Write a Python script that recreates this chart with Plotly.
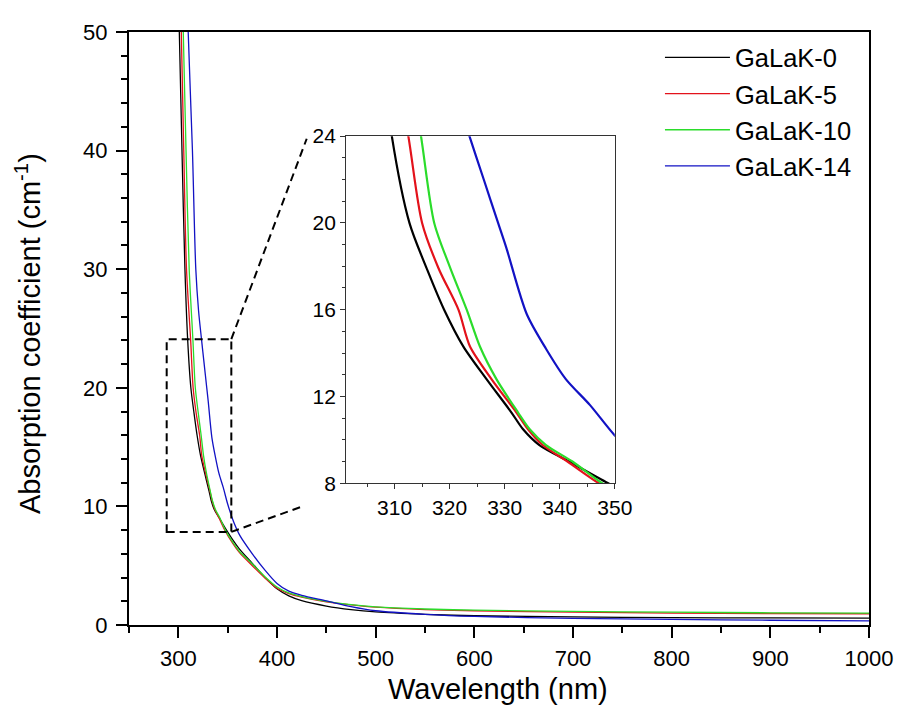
import plotly.graph_objects as go

# ---------------- data ----------------
series_names = ["GaLaK-0", "GaLaK-5", "GaLaK-10", "GaLaK-14"]

wl_galak0 = [298, 301, 303.7, 306.7, 309.5, 312.7, 316, 319.0, 322.5, 326.7, 331.2, 333.3, 336.3,
             341.7, 348.8, 355, 362, 375, 388, 400, 412, 425, 450, 475, 500, 550, 600, 700, 800, 900, 1000]
ab_galak0 = [60, 50, 40, 30, 24, 20, 17.8, 16, 14.3, 12.8, 11.27, 10.5, 9.76,
             9.0, 8.0, 7.2, 6.4, 5.2, 4.0, 3.05, 2.45, 2.05, 1.6, 1.3, 1.1, 0.9, 0.78, 0.68, 0.62, 0.6, 0.58]

wl_galak5 = [300, 303, 305.5, 308.3, 312.5, 315.0, 318, 321.6, 323.7, 327.6, 332.1, 334.2, 336.9,
             341.4, 347.1, 355, 362, 375, 388, 400, 412, 425, 450, 475, 500, 550, 600, 700, 800, 900, 1000]
ab_galak5 = [60, 50, 40, 30, 24, 20, 17.9, 16, 14.3, 12.8, 11.27, 10.5, 9.76,
             9.0, 8.0, 6.9, 6.1, 5.0, 3.95, 3.1, 2.65, 2.35, 1.95, 1.7, 1.5, 1.3, 1.2, 1.08, 1.0, 0.97, 0.95]

wl_galak10 = [302, 305, 307.8, 311, 314.8, 317.2, 320, 323.1, 325.5, 328.5, 332.4, 334.5, 337.5,
              342.3, 347.7, 355, 362, 375, 388, 400, 412, 425, 450, 475, 500, 550, 600, 700, 800, 900, 1000]
ab_galak10 = [60, 50, 40, 30, 24, 20, 18, 16, 14.3, 12.8, 11.27, 10.5, 9.76,
              9.0, 8.0, 7.0, 6.2, 5.15, 4.05, 3.2, 2.7, 2.4, 2.0, 1.72, 1.53, 1.35, 1.25, 1.15, 1.08, 1.03, 1.0]

wl_galak14 = [307, 310, 314.3, 317.7, 320.5, 323.6, 326.2, 328.8, 330.3, 334, 337.5, 341.1, 345.5, 350,
              356, 362, 375, 388, 400, 412, 425, 450, 475, 500, 550, 600, 700, 800, 900, 1000]
ab_galak14 = [60, 50, 40, 30, 26.5, 24, 22, 20, 18.85, 15.8, 14.2, 12.8, 11.6, 10.2,
              8.7, 7.6, 6.0, 4.6, 3.5, 2.85, 2.5, 2.03, 1.55, 1.2, 0.9, 0.72, 0.56, 0.48, 0.4, 0.35]

main_xticks = [300, 400, 500, 600, 700, 800, 900, 1000]
main_yticks = [0, 10, 20, 30, 40, 50]
inset_xticks = [310, 320, 330, 340, 350]
inset_yticks = [8, 12, 16, 20, 24]

colors = ["#000000", "#e3121b", "#2bdc2b", "#1212c4"]
wls = [wl_galak0, wl_galak5, wl_galak10, wl_galak14]
abs_ = [ab_galak0, ab_galak5, ab_galak10, ab_galak14]

fig = go.Figure()

# main traces
for name, x, y, c in zip(series_names, wls, abs_, colors):
    fig.add_trace(go.Scatter(x=x, y=y, mode="lines", name=name,
                             line=dict(color=c, width=1.3, shape="spline", smoothing=0.8),
                             xaxis="x", yaxis="y", showlegend=True))
# inset traces
for name, x, y, c in zip(series_names, wls, abs_, colors):
    fig.add_trace(go.Scatter(x=x, y=y, mode="lines", name=name,
                             line=dict(color=c, width=2.2, shape="spline", smoothing=0.8),
                             xaxis="x2", yaxis="y2", showlegend=False))

main_font = "Liberation Sans, Arial, sans-serif"
narrow_font = "Liberation Sans Narrow, Arial Narrow, Liberation Sans, sans-serif"

# the page adds an 8px body margin, so the figure is 8px smaller and left/top margins are reduced
fig.update_layout(
    width=897, height=712,
    margin=dict(l=121, r=29, t=19, b=95),
    paper_bgcolor="white", plot_bgcolor="white",
    font=dict(family=main_font, color="black"),
    xaxis=dict(domain=[0, 1], range=[250, 1000], tickvals=main_xticks,
               ticks="outside", ticklen=11, tickwidth=2, tickcolor="black",
               showline=True, linewidth=2, linecolor="black", mirror=True,
               showgrid=False, zeroline=False, ticklabelstandoff=2,
               tickfont=dict(size=22, family=main_font),
               minor=dict(ticks="outside", ticklen=6, tickwidth=2, tickcolor="black",
                          dtick=50, tick0=250, showgrid=False)),
    yaxis=dict(domain=[0, 1], range=[0, 50], tickvals=main_yticks,
               ticks="outside", ticklen=11, tickwidth=2, tickcolor="black",
               showline=True, linewidth=2, linecolor="black", mirror=True,
               showgrid=False, zeroline=False, ticklabelstandoff=4,
               tickfont=dict(size=22, family=main_font),
               minor=dict(ticks="outside", ticklen=6, tickwidth=2, tickcolor="black",
                          dtick=2, tick0=0, showgrid=False)),
    xaxis2=dict(domain=[0.2934, 0.6565], range=[301.2, 350], anchor="y2",
                tickvals=inset_xticks, ticks="outside", ticklen=5, tickwidth=1,
                tickcolor="#333333",
                showline=True, linewidth=1, linecolor="#333333", mirror=True,
                showgrid=False, zeroline=False, ticklabelstandoff=1,
                tickfont=dict(size=21, family=narrow_font),
                minor=dict(ticks="outside", ticklen=3, tickwidth=1, tickcolor="#333333",
                           dtick=5, tick0=305, showgrid=False)),
    yaxis2=dict(domain=[0.2391, 0.8244], range=[8, 24], anchor="x2",
                tickvals=inset_yticks, ticks="outside", ticklen=5, tickwidth=1,
                tickcolor="#333333",
                showline=True, linewidth=1, linecolor="#333333", mirror=True,
                showgrid=False, zeroline=False,
                tickfont=dict(size=21, family=narrow_font),
                minor=dict(ticks="outside", ticklen=3, tickwidth=1, tickcolor="#333333",
                           dtick=1, tick0=8, showgrid=False)),
    legend=dict(x=0.7175, y=0.996, xanchor="left", yanchor="top",
                bgcolor="rgba(0,0,0,0)", borderwidth=0,
                font=dict(size=25.5, family=main_font, color="black"),
                itemwidth=65, tracegroupgap=0),
    showlegend=True,
)

# axis titles as annotations
fig.add_annotation(text="Wavelength (nm)", xref="paper", yref="paper",
                   x=0.4993, y=-0.1087, showarrow=False,
                   font=dict(size=29, family=main_font, color="black"),
                   xanchor="center", yanchor="middle")
fig.add_annotation(text="Absorption coefficient (cm<sup>-1</sup>)", xref="paper", yref="paper",
                   x=-0.1364, y=0.4908, showarrow=False, textangle=-90,
                   font=dict(size=29, family=main_font, color="black"),
                   xanchor="center", yanchor="middle")

# zoom box and connecting dashed lines
dash_style = dict(color="black", width=2, dash="8px,5px")
fig.add_shape(type="rect", xref="x", yref="y", x0=288.2, x1=353.7, y0=7.85, y1=24.1,
              line=dash_style, fillcolor="rgba(0,0,0,0)")
fig.add_shape(type="line", xref="x", yref="y", x0=353.7, y0=24.1, x1=430.1, y1=41.0,
              line=dash_style)
fig.add_shape(type="line", xref="x", yref="y", x0=353.7, y0=7.85, x1=428.1, y1=10.07,
              line=dash_style)

fig.write_html("out.html")
